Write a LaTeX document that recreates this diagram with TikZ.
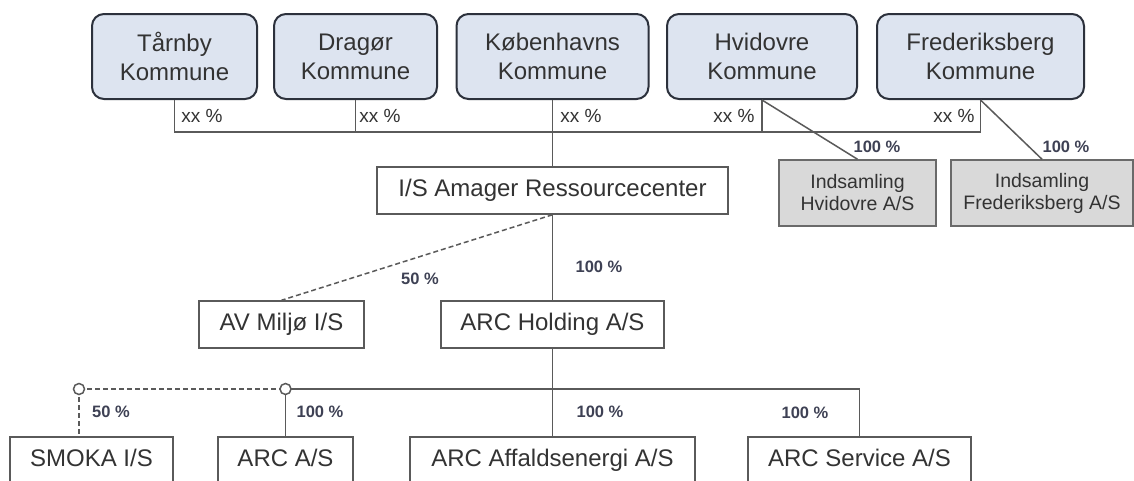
\documentclass[tikz,border=0pt]{standalone}
\usepackage{fontspec}
\setmainfont{Liberation Sans}
\definecolor{kfill}{HTML}{DDE4F0}
\definecolor{kborder}{HTML}{2C313C}
\definecolor{ifill}{HTML}{D9D9D9}
\definecolor{iborder}{HTML}{6A6A6A}
\definecolor{txt}{HTML}{333333}
\definecolor{lcol}{HTML}{5A5A5A}
\definecolor{pcol}{HTML}{3E4154}
\begin{document}
\begin{tikzpicture}[x=1pt,y=-1pt,
  kom/.style={draw=kborder, line width=2pt, fill=kfill, rounded corners=12pt, align=center,
    font=\fontsize{24}{29}\selectfont, text=txt, inner sep=0pt, minimum height=85pt},
  ibox/.style={draw=iborder, line width=1.5pt, fill=ifill, align=center,
    font=\fontsize{19.5}{22}\selectfont, text=txt, inner sep=0pt, minimum height=66pt},
  wbox/.style={draw=lcol, line width=1.5pt, fill=white, font=\fontsize{24}{28}\selectfont,
    text=txt, inner sep=0pt, minimum height=47pt, text height=17pt, text depth=5pt},
  lnk/.style={draw=lcol, line width=1.5pt},
  dlnk/.style={draw=lcol, line width=1.5pt, dash pattern=on 5pt off 3pt},
  pct/.style={font=\bfseries\fontsize{16.5}{18}\selectfont, text=pcol},
  xxl/.style={font=\fontsize{19}{20}\selectfont, text=txt},
  dotc/.style={circle, draw=lcol, fill=white, line width=1.5pt, minimum size=11pt, inner sep=0pt}
]
\useasboundingbox (0,0) rectangle (1134,480);
\clip (0,0) rectangle (1134,480);
\fill[white] (0,0) rectangle (1134,480);

% top municipalities
\node[kom, minimum width=165pt] (tarnby) at (174.5,56.5) {Tårnby\\Kommune};
\node[kom, minimum width=163pt] (dragor) at (355.5,56.5) {Dragør\\Kommune};
\node[kom, minimum width=192pt] (kbh) at (552.5,56.5) {Københavns\\Kommune};
\node[kom, minimum width=190pt] (hvid) at (762,56.5) {Hvidovre\\Kommune};
\node[kom, minimum width=207pt] (frb) at (980.5,56.5) {Frederiksberg\\Kommune};

% collection companies
\node[ibox, minimum width=157pt] (indh) at (857.5,193) {Indsamling\\Hvidovre A/S};
\node[ibox, minimum width=182pt] (indf) at (1042,193) {Indsamling\\Frederiksberg A/S};

% middle
\node[wbox, minimum width=351pt] (isarc) at (552.5,190.5) {I/S Amager Ressourcecenter};
\node[wbox, minimum width=165pt] (avm) at (281.5,324.5) {AV Miljø I/S};
\node[wbox, minimum width=223pt] (hold) at (552.5,324.5) {ARC Holding A/S};

% bottom
\node[wbox, minimum width=163pt] (smoka) at (91.5,460.5) {SMOKA I/S};
\node[wbox, minimum width=135pt] (arcas) at (285.5,460.5) {ARC A/S};
\node[wbox, minimum width=285pt] (aff) at (552.5,460.5) {ARC Affaldsenergi A/S};
\node[wbox, minimum width=223pt] (serv) at (859.5,460.5) {ARC Service A/S};

% top bus
\coordinate (bus) at (0,132);
\draw[lnk] (tarnby.south) -- (tarnby.south |- bus) -- (frb.south |- bus) -- (frb.south);
\draw[lnk] (dragor.south) -- (dragor.south |- bus);
\draw[lnk] (hvid.south) -- (hvid.south |- bus);
\draw[lnk] (kbh.south) -- (isarc.north);
\draw[lnk] (hvid.south) -- (indh.north);
\draw[lnk] (frb.south) -- (indf.north);

\node[xxl] at (202,116) {xx \%};
\node[xxl] at (380,116) {xx \%};
\node[xxl] at (581,116) {xx \%};
\node[xxl] at (734,116) {xx \%};
\node[xxl] at (954,116) {xx \%};
\node[pct] at (877,147) {100 \%};
\node[pct] at (1066,147) {100 \%};

% middle links
\draw[dlnk] (isarc.south) -- (avm.north);
\draw[lnk] (isarc.south) -- (hold.north);
\node[pct] at (420,279) {50 \%};
\node[pct] at (599,267) {100 \%};

% bottom links
\coordinate (c1) at (79,389);
\coordinate (c2) at (arcas.north |- c1);
\draw[lnk] (hold.south) -- (aff.north);
\draw[lnk] (c2) -- (serv.north |- c1) -- (serv.north);
\draw[lnk] (c2) -- (arcas.north);
\draw[dlnk] (c1) -- (c2);
\draw[dlnk] (c1) -- (c1 |- smoka.north);
\node[dotc] (d1) at (c1) {};
\node[dotc] (d2) at (c2) {};
\node[pct] at (111,412) {50 \%};
\node[pct] at (320,412) {100 \%};
\node[pct] at (600,412) {100 \%};
\node[pct] at (805,413) {100 \%};
\end{tikzpicture}
\end{document}
